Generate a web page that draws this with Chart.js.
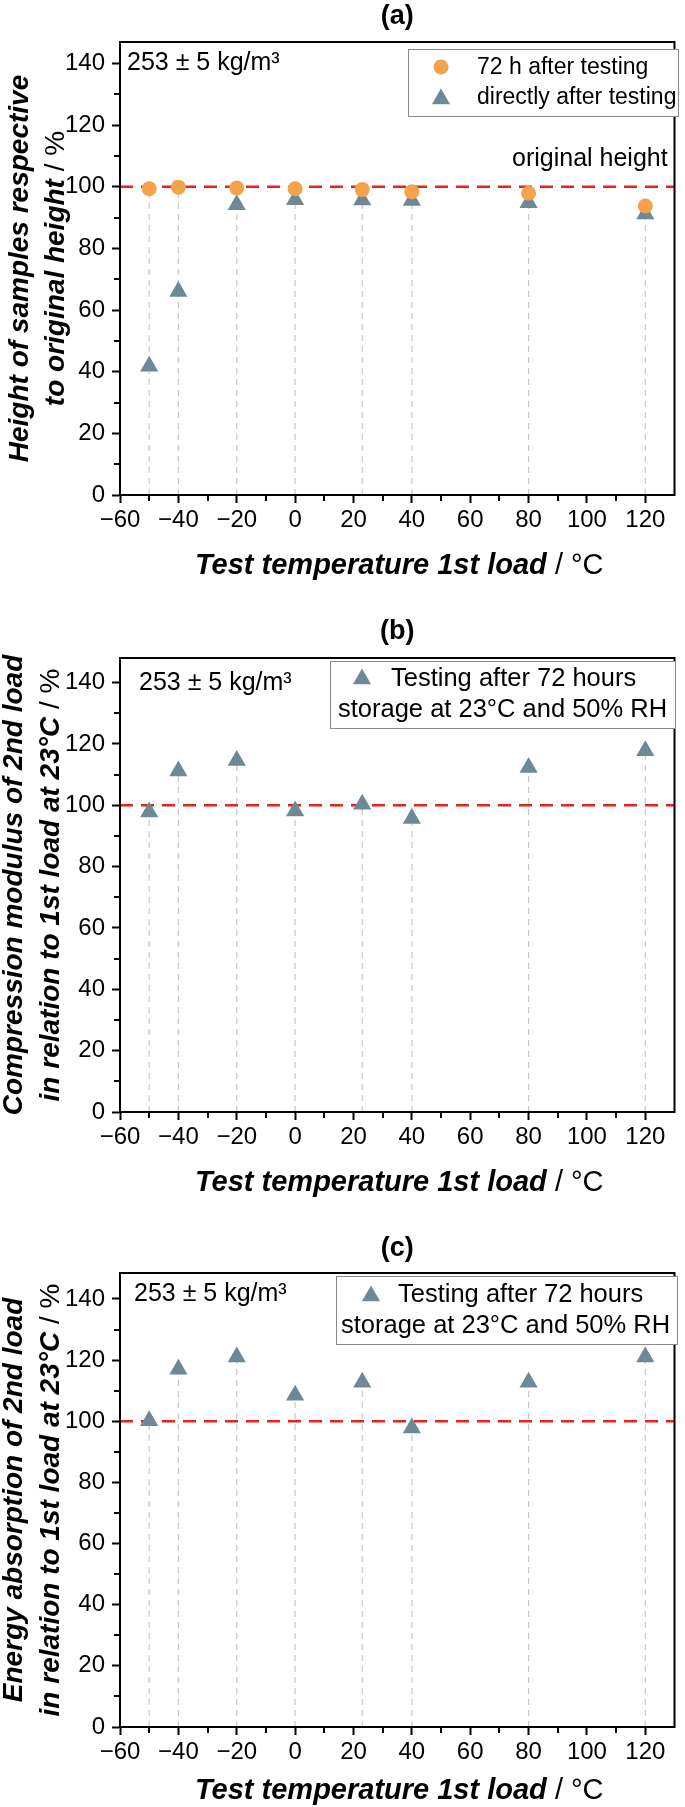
<!DOCTYPE html>
<html>
<head>
<meta charset="utf-8">
<script src="https://cdn.jsdelivr.net/npm/chart.js@4.4.0/dist/chart.umd.min.js"></script>
<style>
html,body{margin:0;padding:0;background:#fff;}
body{width:685px;height:1807px;position:relative;overflow:hidden;}
canvas{position:absolute;left:0;display:block;}
</style>
</head>
<body>
<canvas id="ca" width="685" height="610" style="top:0px;width:685px;height:610px"></canvas>
<canvas id="cb" width="685" height="600" style="top:610px;width:685px;height:600px"></canvas>
<canvas id="cc" width="685" height="597" style="top:1210px;width:685px;height:597px"></canvas>
<script>
// ---------------- data ----------------
const temperatures = [-50, -40, -20, 0, 23, 40, 80, 120];
const heightAfter72h = [99.4, 99.9, 99.6, 99.4, 99.1, 98.4, 97.9, 93.8];
const heightDirectly = [41.8, 66.0, 94.2, 95.8, 95.7, 95.6, 94.8, 91.2];
const compressionModulus = [97.8, 111.2, 114.6, 98.1, 100.3, 95.7, 112.3, 117.8];
const energyAbsorption = [100.2, 117.0, 121.0, 108.5, 112.8, 97.8, 112.8, 121.0];
const referenceLevel = 100;
const xTickValues = [-60, -40, -20, 0, 20, 40, 60, 80, 100, 120];
const yTickValues = [0, 20, 40, 60, 80, 100, 120, 140];
const densityNote = '253 ± 5 kg/m³';

// ---------------- styling ----------------
const FONT = '"Liberation Sans", Arial, Helvetica, sans-serif';
const ORANGE = '#f4a24c';
const SLATE = '#6d8995';
const RED = '#e8201f';
const DROP = '#c8c8c8';
const X_MIN = -60, X_MAX = 130;

function fmt(v){ return String(v).replace('-', '\u2212'); }

function richWidth(ctx, parts){
  let w = 0;
  for (const p of parts){ ctx.font = p.font; w += ctx.measureText(p.text).width; }
  return w;
}
function drawRich(ctx, parts, cx, cy, align){
  const w = richWidth(ctx, parts);
  let x = align === 'left' ? cx : cx - w / 2;
  ctx.textAlign = 'left';
  ctx.textBaseline = 'middle';
  for (const p of parts){ ctx.font = p.font; ctx.fillText(p.text, x, cy); x += ctx.measureText(p.text).width; }
}
const BI = s => `italic bold ${s}px ${FONT}`;
const RG = s => `${s}px ${FONT}`;

function drawTriangle(ctx, x, y, r, color){
  ctx.beginPath();
  let rad = 0;
  ctx.moveTo(x + Math.sin(rad) * r, y - Math.cos(rad) * r);
  rad += 2 * Math.PI / 3;
  ctx.lineTo(x + Math.sin(rad) * r, y - Math.cos(rad) * r);
  rad += 2 * Math.PI / 3;
  ctx.lineTo(x + Math.sin(rad) * r, y - Math.cos(rad) * r);
  ctx.closePath();
  ctx.fillStyle = color;
  ctx.fill();
}
function drawCircle(ctx, x, y, r, color){
  ctx.beginPath();
  ctx.arc(x, y, r, 0, Math.PI * 2);
  ctx.fillStyle = color;
  ctx.fill();
}

function makePanel(canvasId, p){
  const off = p.offset;
  const H = p.height;
  const datasets = [];
  p.series.forEach(s => {
    datasets.push({
      label: s.label,
      data: temperatures.map((t, i) => ({x: t, y: s.values[i]})),
      showLine: false,
      pointStyle: s.style,
      pointRadius: s.radius,
      pointHoverRadius: s.radius,
      backgroundColor: s.color,
      borderColor: s.color,
      borderWidth: 0
    });
  });
  datasets.push({
    label: 'reference',
    data: [{x: X_MIN, y: referenceLevel}, {x: X_MAX, y: referenceLevel}],
    showLine: true, fill: false,
    borderColor: RED, borderWidth: 2.5, borderDash: [13, 8],
    pointRadius: 0, pointHoverRadius: 0
  });
  temperatures.forEach((t, i) => {
    const top = Math.max(...p.series.map(s => s.values[i]));
    datasets.push({
      label: 'drop' + i,
      data: [{x: t, y: 0}, {x: t, y: top}],
      showLine: true, fill: false,
      borderColor: DROP, borderWidth: 1.2, borderDash: [6, 5],
      pointRadius: 0, pointHoverRadius: 0
    });
  });

  const deco = {
    id: 'deco' + canvasId,
    afterDraw(chart){
      const ctx = chart.ctx;
      const a = chart.chartArea;
      const xs = chart.scales.x, ys = chart.scales.y;
      ctx.save();
      ctx.strokeStyle = '#000';
      ctx.lineWidth = 2;
      xs.ticks.forEach(t => {
        if (!xTickValues.includes(t.value) && t.value > X_MIN && t.value < 120){
          const px = Math.round(xs.getPixelForValue(t.value));
          ctx.beginPath(); ctx.moveTo(px, a.bottom); ctx.lineTo(px, a.bottom + 6); ctx.stroke();
        }
      });
      ys.ticks.forEach(t => {
        if (!yTickValues.includes(t.value) && t.value > 0 && t.value < 140){
          const py = Math.round(ys.getPixelForValue(t.value));
          ctx.beginPath(); ctx.moveTo(a.left, py); ctx.lineTo(a.left - 6, py); ctx.stroke();
        }
      });
      ctx.strokeRect(a.left, a.top, a.right - a.left, a.bottom - a.top);

      ctx.fillStyle = '#000';
      const cx = (a.left + a.right) / 2;
      drawRich(ctx, [{text: p.title, font: `bold 27px ${FONT}`}], cx, p.titleY - off);
      drawRich(ctx, [{text: 'Test temperature 1st load', font: BI(29)}, {text: ' / °C', font: RG(29)}], cx + p.xTitleDx, p.xTitleY - off);
      const cy = (a.top + a.bottom) / 2;
      p.yTitle.forEach((line, k) => {
        ctx.save();
        ctx.translate(p.yTitleX[k], cy);
        ctx.rotate(-Math.PI / 2);
        drawRich(ctx, line.map(seg => ({text: seg[1], font: seg[0] === 'b' ? BI(28) : RG(28)})), 0, 0);
        ctx.restore();
      });
      drawRich(ctx, [{text: densityNote, font: RG(25)}], p.note[0], p.note[1] - off, 'left');
      const L = p.legend;
      ctx.fillStyle = '#fff';
      ctx.fillRect(L.box[0], L.box[1] - off, L.box[2] - L.box[0], L.box[3] - L.box[1]);
      ctx.strokeStyle = '#8a8a8a';
      ctx.lineWidth = 1;
      ctx.strokeRect(L.box[0] + 0.5, L.box[1] - off + 0.5, L.box[2] - L.box[0], L.box[3] - L.box[1]);
      L.symbols.forEach(s => {
        if (s.kind === 'circle') drawCircle(ctx, s.x, s.y - off, 7.5, ORANGE);
        else drawTriangle(ctx, s.x, s.y - off, 10.5, SLATE);
      });
      ctx.fillStyle = '#000';
      L.texts.forEach(t => drawRich(ctx, [{text: t.text, font: RG(L.size)}], t.x, t.y - off, 'left'));
      if (p.extra){ p.extra(ctx, chart); }
      ctx.restore();
    }
  };

  return new Chart(document.getElementById(canvasId), {
    type: 'scatter',
    data: {datasets},
    options: {
      responsive: false,
      animation: false,
      devicePixelRatio: 1,
      events: [],
      layout: {padding: {top: p.areaTop - off, right: 4, left: 0, bottom: 0}},
      plugins: {legend: {display: false}, tooltip: {enabled: false}, title: {display: false}},
      scales: {
        x: {
          type: 'linear', min: X_MIN, max: X_MAX,
          ticks: {
            stepSize: 10, autoSkip: false, includeBounds: false, maxRotation: 0, minRotation: 0,
            color: '#000', padding: 3, font: {family: FONT, size: 24},
            callback: v => xTickValues.includes(v) ? fmt(v) : ''
          },
          grid: {
            drawOnChartArea: false, drawTicks: true, tickLength: 8, tickWidth: 2,
            tickColor: c => (c.tick && xTickValues.includes(c.tick.value)) ? '#000' : 'rgba(0,0,0,0)'
          },
          border: {display: true, color: '#000', width: 2},
          afterFit: s => { s.height = H - (p.areaBottom - off); }
        },
        y: {
          type: 'linear', min: 0, max: p.yMax,
          ticks: {
            stepSize: 10, autoSkip: false, includeBounds: false,
            color: '#000', padding: 7, font: {family: FONT, size: 24},
            callback: v => yTickValues.includes(v) ? fmt(v) : ''
          },
          grid: {
            drawOnChartArea: false, drawTicks: true, tickLength: 8, tickWidth: 2,
            tickColor: c => (c.tick && yTickValues.includes(c.tick.value)) ? '#000' : 'rgba(0,0,0,0)'
          },
          border: {display: true, color: '#000', width: 2},
          afterFit: s => { s.width = 120; }
        }
      }
    },
    plugins: [deco]
  });
}

makePanel('ca', {
  offset: 0, height: 610, areaTop: 42, areaBottom: 495, yMax: 147,
  title: '(a)', titleY: 17, xTitleY: 566, xTitleDx: 2,
  yTitleX: [20, 56],
  yTitle: [[['b', 'Height of samples respective']], [['b', 'to original height'], ['r', ' / %']]],
  note: [127, 63],
  series: [
    {label: '72 h after testing', values: heightAfter72h, style: 'circle', radius: 7.5, color: ORANGE},
    {label: 'directly after testing', values: heightDirectly, style: 'triangle', radius: 10.5, color: SLATE}
  ],
  legend: {
    box: [408, 49, 678, 116], size: 23,
    symbols: [{kind: 'circle', x: 441, y: 67}, {kind: 'triangle', x: 441, y: 99}],
    texts: [{text: '72 h after testing', x: 477, y: 68}, {text: 'directly after testing', x: 477, y: 98}]
  },
  extra: (ctx) => {
    drawRich(ctx, [{text: 'original height', font: RG(25)}], 512, 159, 'left');
  }
});

makePanel('cb', {
  offset: 610, height: 600, areaTop: 658, areaBottom: 1112, yMax: 148,
  title: '(b)', titleY: 632, xTitleY: 1183, xTitleDx: 2,
  yTitleX: [14, 51],
  yTitle: [[['b', 'Compression modulus of 2nd load']], [['b', 'in relation to 1st load at 23°C'], ['r', ' / %']]],
  note: [139, 683],
  series: [
    {label: 'Testing after 72 hours storage at 23°C and 50% RH', values: compressionModulus, style: 'triangle', radius: 10.5, color: SLATE}
  ],
  legend: {
    box: [330, 661, 675, 728], size: 25.5,
    symbols: [{kind: 'triangle', x: 362, y: 679}],
    texts: [{text: 'Testing after 72 hours', x: 391, y: 679}, {text: 'storage at 23°C and 50% RH', x: 338, y: 710}]
  }
});

makePanel('cc', {
  offset: 1210, height: 597, areaTop: 1273, areaBottom: 1727, yMax: 148.5,
  title: '(c)', titleY: 1249, xTitleY: 1791, xTitleDx: 2,
  yTitleX: [14, 51],
  yTitle: [[['b', 'Energy absorption of 2nd load']], [['b', 'in relation to 1st load at 23°C'], ['r', ' / %']]],
  note: [134, 1294],
  series: [
    {label: 'Testing after 72 hours storage at 23°C and 50% RH', values: energyAbsorption, style: 'triangle', radius: 10.5, color: SLATE}
  ],
  legend: {
    box: [336, 1276, 677, 1344], size: 25.5,
    symbols: [{kind: 'triangle', x: 371, y: 1296}],
    texts: [{text: 'Testing after 72 hours', x: 398, y: 1295}, {text: 'storage at 23°C and 50% RH', x: 341, y: 1326}]
  }
});
</script>
</body>
</html>
